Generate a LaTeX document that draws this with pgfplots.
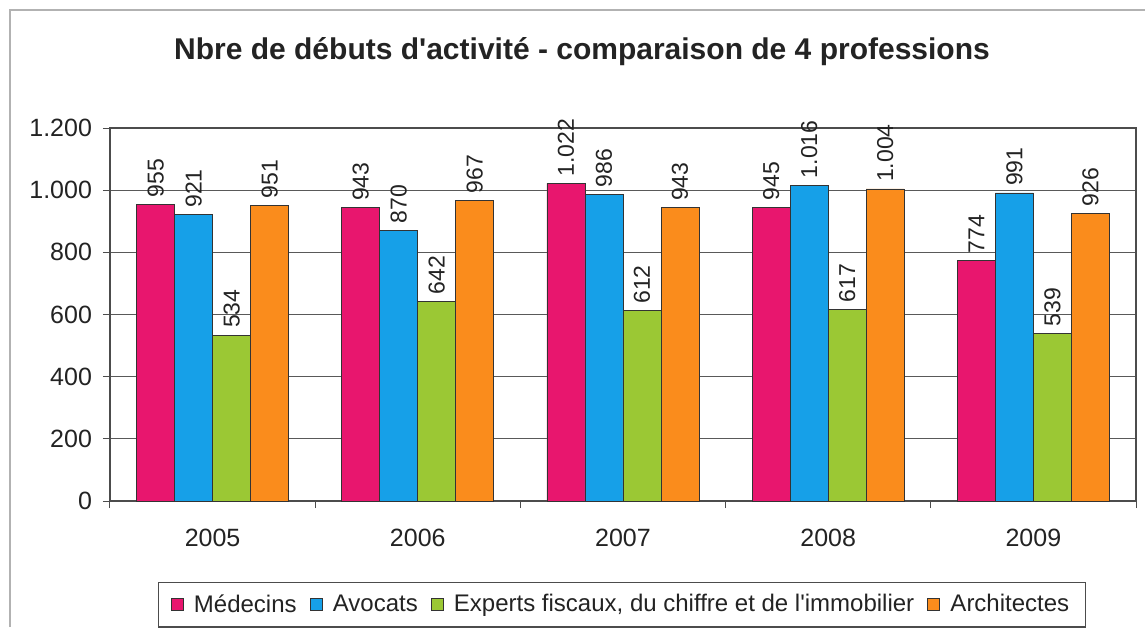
\documentclass[border=0pt]{standalone}
\usepackage{pgfplots}
\pgfplotsset{compat=1.18}
\usepackage{fontspec}
\setmainfont{Liberation Sans}
\definecolor{cPink}{RGB}{232,22,110}
\definecolor{cBlue}{RGB}{22,160,232}
\definecolor{cGreen}{RGB}{155,200,52}
\definecolor{cOrange}{RGB}{250,140,28}
\definecolor{txt}{RGB}{35,35,35}
\pgfplotsset{/pgf/number format/1000 sep={.}, /pgf/number format/assume math mode=true}
\begin{document}
\begin{tikzpicture}
\useasboundingbox (-55pt,-63pt) rectangle (517.5pt,250.5pt);
\fill[white] (-55pt,-63pt) rectangle (517.5pt,250.5pt);
\draw[gray!60, line width=0.8pt] (-50pt,-63pt) -- (-50pt,245.5pt) -- (517.5pt,245.5pt);
\node[font=\bfseries\fontsize{15}{18}\selectfont, text=txt] at (236pt,224.5pt) {Nbre de débuts d\textquotesingle activité - comparaison de 4 professions};
\begin{axis}[
 at={(0pt,0pt)}, anchor=south west,
 scale only axis, width=513pt, height=186.5pt,
 ybar=0pt, bar width=19pt,
 xmin=-0.5, xmax=4.5, ymin=0, ymax=1200,
 xtick={0,1,2,3,4}, xticklabels={2005,2006,2007,2008,2009},
 major x tick style={draw=none},
 minor xtick={-0.5,0.5,1.5,2.5,3.5,4.5},
 ytick={0,200,400,600,800,1000,1200},
 xtick pos=bottom, ytick pos=left,
 tick align=outside,
 major tick length=3.5pt, minor tick length=3.5pt,
 tick style={gray!60!black, line width=0.5pt},
 ymajorgrids, major grid style={gray!70!black, line width=0.5pt},
 axis line style={gray!60!black, line width=0.6pt},
 ticklabel style={font=\fontsize{12.5}{14}\selectfont, text=txt},
 yticklabel style={xshift=-2pt},
 xticklabel style={yshift=-7pt},
 nodes near coords,
 every node near coord/.append style={rotate=90, anchor=west, font=\fontsize{11.5}{13}\selectfont, text=txt},
 legend columns=4,
 legend style={at={(axis description cs:0.499,-0.278)}, anchor=center, draw=gray!60!black, line width=0.6pt, font=\fontsize{12}{14}\selectfont, text=txt, inner xsep=6pt, inner ysep=4pt,
   /tikz/every odd column/.append style={column sep=3pt},
   /tikz/every even column/.append style={column sep=4.5pt}},
 legend image code/.code={\draw[#1, draw=black!80, line width=0.6pt] (0pt,-3pt) rectangle (6pt,3pt);},
]
\addplot[fill=cPink, draw=black!80] coordinates {(0,955) (1,943) (2,1022) (3,945) (4,774)};
\addplot[fill=cBlue, draw=black!80] coordinates {(0,921) (1,870) (2,986) (3,1016) (4,991)};
\addplot[fill=cGreen, draw=black!80] coordinates {(0,534) (1,642) (2,612) (3,617) (4,539)};
\addplot[fill=cOrange, draw=black!80] coordinates {(0,951) (1,967) (2,943) (3,1004) (4,926)};
\legend{Médecins, Avocats, {Experts fiscaux, du chiffre et de l\textquotesingle immobilier}, Architectes}
\end{axis}
\end{tikzpicture}
\end{document}
